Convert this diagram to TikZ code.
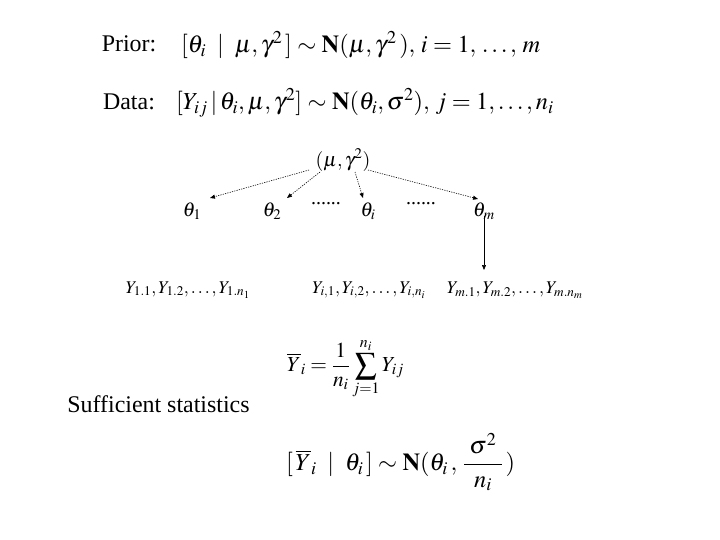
\documentclass[tikz,border=0pt]{standalone}
\usepackage{amsmath}
\usepackage{mathptmx}
\usepackage{fontspec}
\setmainfont{Liberation Serif}
\usetikzlibrary{arrows.meta}
\tikzset{
  lbl/.style = {inner sep = 0pt, font = \fontsize{24}{28}\selectfont},
  eq/.style = {inner sep = 0pt, anchor = west, font = \fontsize{24.5}{29}\selectfont},
  sml/.style = {inner sep = 0pt, font = \fontsize{20}{24}\selectfont},
  obs/.style = {inner sep = 0pt, font = \fontsize{18}{22}\selectfont},
  dotarr/.style = {semithick, dash pattern = on 1.2pt off 1.2pt, -{Triangle[length = 5pt, width = 4pt]}},
  solarr/.style = {semithick, -{Triangle[length = 5pt, width = 4pt]}}
}
\begin{document}
\begin{tikzpicture}[x = 10bp, y = -10bp]
            \useasboundingbox (0, 0) rectangle (72, 54);
            % prior and data
            \node [lbl] (prior) at (12.9, 4.4) {Prior:};
            \node [eq] (priorf) at (18.1, 4.5) {$[\theta_i \;\mid\; \mu, \gamma^2\,] \sim \mathbf{N}(\mu, \gamma^2\,),\, i = 1,\, \ldots,\, m$};
            \node [lbl] (data) at (12.9, 10.2) {Data:};
            \node [eq] (dataf) at (17.6, 10.3) {$[Y_{ij} \,|\, \theta_i, \mu, \gamma^2] \sim \mathbf{N}(\theta_i, \sigma^2),\, j = 1, \ldots, n_i$};
            % hierarchy
            \node [sml] (hyper) at (34.3, 16.0) {$(\mu, \gamma^2)$};
            \node [sml] (th1) at (19.2, 21.1) {$\theta_1$};
            \node [sml] (th2) at (27.2, 21.1) {$\theta_2$};
            \node [sml] (dotsa) at (32.6, 20.4) {......};
            \node [sml] (thi) at (36.8, 21.1) {$\theta_i$};
            \node [sml] (dotsb) at (42.1, 20.4) {......};
            \node [sml] (thm) at (48.4, 21.1) {$\theta_m$};
            \draw [dotarr] (30.9, 17.0) to (21.0, 19.8);
            \draw [dotarr] (32.0, 17.2) to (28.7, 19.8);
            \draw [dotarr] (35.5, 17.2) to (36.3, 19.8);
            \draw [dotarr] (36.8, 17.0) to (47.8, 19.9);
            \draw [solarr] (48.4, 21.6) to (48.4, 27.0);
            \draw [solarr, draw = none] (18.7, 25.8) to (18.7, 26.6);
            \draw [solarr, draw = none] (37.3, 26.1) to (37.3, 26.9);
            % observations
            \node [obs] (y1) at (18.8, 29.0) {$Y_{1.1}, Y_{1.2}, \ldots, Y_{1.n_1}$};
            \node [obs] (yi) at (36.9, 29.0) {$Y_{i,1}, Y_{i,2}, \ldots, Y_{i,n_i}$};
            \node [obs] (ym) at (51.5, 29.0) {$Y_{m.1}, Y_{m.2}, \ldots, Y_{m.n_m}$};
            % sufficient statistics
            \node [lbl] (suff) at (15.85, 40.4) {Sufficient statistics};
            \node [eq, font = \fontsize{21.5}{26}\selectfont] (ybar) at (28.7, 36.9) {$\displaystyle \overline{Y}_i = \frac{1}{n_i} \sum_{j=1}^{n_i} Y_{ij}$};
            \node [eq] (ybarf) at (28.6, 46.2) {$\displaystyle [\,\overline{Y}_i \;\mid\; \theta_i\,] \sim \mathbf{N}(\theta_i\,,\, \frac{\;\sigma^2\;}{n_i}\,)$};
        \end{tikzpicture}
\end{document}
